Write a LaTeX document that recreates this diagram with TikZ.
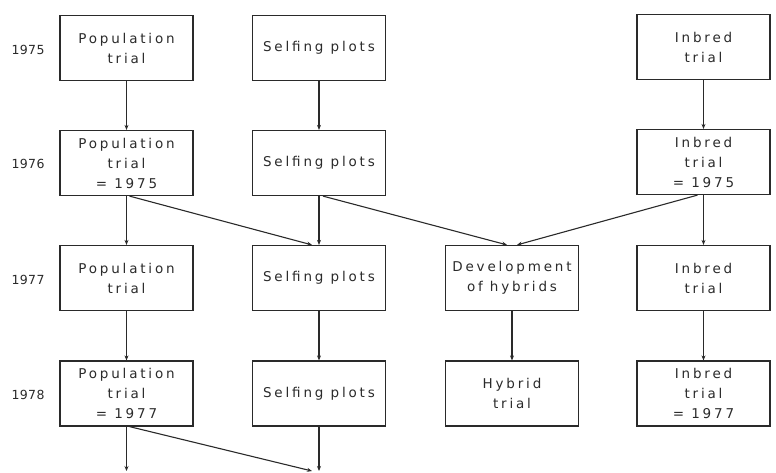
\documentclass[tikz,border=0pt]{standalone}
\usepackage{fontspec}
\setmainfont{DejaVu Sans}[LetterSpace=21]
\usetikzlibrary{arrows.meta}
\definecolor{ink}{HTML}{2A2A2A}
\tikzset{
  box/.style={draw=ink, line width=1.2pt, minimum width=133pt, minimum height=65pt,
    inner sep=0pt, align=center, font=\fontsize{13.5}{20}\selectfont, text=ink},
  year/.style={font=\fontsize{12.5}{14}\selectfont\addfontfeature{LetterSpace=3}, text=ink, inner sep=0pt},
  arr/.style={draw=ink, line width=1.1pt, -{Stealth[length=5pt,width=4pt]}}
}
\begin{document}
\begin{tikzpicture}[x=1pt,y=-1pt]
\useasboundingbox (0,0) rectangle (776,472);
% year labels
\node[year] (y1) at (28,50) {1975};
\node[year] (y2) at (28,164) {1976};
\node[year] (y3) at (28,280) {1977};
\node[year] (y4) at (28,395) {1978};
% row 1
\node[box] (p1) at (126.5,48) {Population\\trial};
\node[box] (s1) at (319,48) {Selfing plots};
\node[box] (i1) at (703.5,47) {Inbred\\trial};
% row 2
\node[box] (p2) at (126.5,163) {Population\\trial\\= 1975};
\node[box] (s2) at (319,163) {Selfing plots};
\node[box] (i2) at (703.5,162) {Inbred\\trial\\= 1975};
% row 3
\node[box] (p3) at (126.5,278) {Population\\trial};
\node[box] (s3) at (319,278) {Selfing plots};
\node[box] (d3) at (512,278) {Development\\of hybrids};
\node[box] (i3) at (703.5,278) {Inbred\\trial};
% row 4
\node[box] (p4) at (126.5,393.5) {Population\\trial\\= 1977};
\node[box] (s4) at (319,393.5) {Selfing plots};
\node[box] (h4) at (512,393.5) {Hybrid\\trial};
\node[box] (i4) at (703.5,393.5) {Inbred\\trial\\= 1977};
% free ends at bottom
\coordinate (bp) at (126.5,471);
\coordinate (bs) at (319,471);
\coordinate (bd) at (312,471);
% vertical arrows
\draw[arr] (p1) -- (p2);
\draw[arr] (s1) -- (s2);
\draw[arr] (i1) -- (i2);
\draw[arr] (p2) -- (p3);
\draw[arr] (s2) -- (s3);
\draw[arr] (i2) -- (i3);
\draw[arr] (p3) -- (p4);
\draw[arr] (s3) -- (s4);
\draw[arr] (d3) -- (h4);
\draw[arr] (i3) -- (i4);
\draw[arr] (p4.south) -- (bp);
\draw[arr] (s4.south) -- (bs);
% diagonal arrows
\draw[arr] ([xshift=3pt]p2.south) -- ([xshift=-7pt]s3.north);
\draw[arr] ([xshift=4pt]s2.south) -- ([xshift=-5pt]d3.north);
\draw[arr] ([xshift=-6pt]i2.south) -- ([xshift=5pt]d3.north);
\draw[arr] ([xshift=3pt]p4.south) -- (bd);
\end{tikzpicture}
\end{document}
